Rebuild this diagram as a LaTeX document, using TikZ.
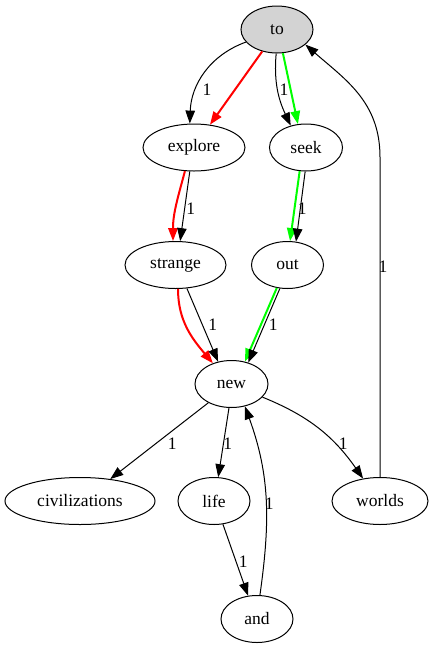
\documentclass[tikz,border=0pt]{standalone}
\usepackage{fontspec}
\newfontfamily\wordfont{Liberation Serif}
\usepackage{tikz}
\usetikzlibrary{shapes.geometric,arrows.meta,positioning}
\definecolor{startgray}{RGB}{211,211,211}
\definecolor{pathgreen}{RGB}{0,255,0}

\begin{document}
\begin{tikzpicture}[x=1pt, y=1pt,
    word/.style={ellipse, draw, line width=1pt, inner sep=0pt, minimum width=72pt, minimum height=47pt, font=\wordfont\fontsize{17.5}{20}\selectfont},
    lbl/.style={inner sep=0pt, font=\wordfont\fontsize{17.5}{20}\selectfont},
    arrow/.style={line width=1pt, -{Triangle[length=13pt, width=9.5pt]}},
    redpath/.style={arrow, draw=red, line width=2pt},
    greenpath/.style={arrow, draw=pathgreen, line width=2pt}]
    \useasboundingbox (0,0) rectangle (433,-649);

    \node[word, fill=startgray] (to) at (277,-29.5) {to};
    \node[word, minimum width=102pt] (explore) at (194,-147.5) {explore};
    \node[word, minimum width=73pt] (seek) at (306,-147.5) {seek};
    \node[word, minimum width=101pt] (strange) at (175.5,-265) {strange};
    \node[word] (out) at (287.5,-265) {out};
    \node[word, minimum width=73pt] (new) at (231.5,-384) {new};
    \node[word, minimum width=150pt] (civ) at (80,-501) {civilizations};
    \node[word] (life) at (214,-501) {life};
    \node[word, minimum width=96pt] (worlds) at (380,-501) {worlds};
    \node[word] (and) at (257,-619) {and};

    \draw[arrow] (to.202) to[out=200, in=88] (explore.100);
    \draw[redpath] (to.236) -- (explore.55);
    \draw[arrow] (to.268) to[out=265, in=115] (seek.125);
    \draw[greenpath] (to.284) -- (seek.109);
    \draw[redpath] (explore.249) to[out=255, in=90] (strange.96);
    \draw[arrow] (explore.260) -- (strange.79);
    \draw[greenpath] (seek.255) -- (out.84);
    \draw[arrow] (seek.268) -- (out.70);
    \draw[redpath] (strange.276) to[out=270, in=130] (new.132);
    \draw[arrow] (strange.296) -- (new.121);
    \draw[greenpath] (out.245) -- (new.59);
    \draw[arrow] (out.252) -- (new.52);
    \draw[arrow] (new.219) -- (civ.36);
    \draw[arrow] (new.264) -- (life.80);
    \draw[arrow] (new.337) to[out=-22, in=125] (worlds.127);
    \draw[arrow] (life.291) -- (and.111);
    \draw[arrow] (and.83) to[out=82, in=-70] (new.301);
    \draw[arrow] (worlds.north) -- ++(0,320) .. controls +(0,55) and +(40,-35) .. (to.332);

    % Annotations
    \node[lbl] (l-to-explore) at (207,-90) {1};
    \node[lbl] (l-to-seek) at (284,-89.5) {1};
    \node[lbl] (l-explore-strange) at (190.7,-208.3) {1};
    \node[lbl] (l-seek-out) at (302.3,-208.3) {1};
    \node[lbl] (l-strange-new) at (212.7,-325) {1};
    \node[lbl] (l-out-new) at (273.3,-325) {1};
    \node[lbl] (l-new-civ) at (172.3,-443.3) {1};
    \node[lbl] (l-new-life) at (227.7,-443.3) {1};
    \node[lbl] (l-new-worlds) at (343.3,-443.3) {1};
    \node[lbl] (l-life-and) at (243.3,-561.7) {1};
    \node[lbl] (l-and-new) at (269.3,-503.3) {1};
    \node[lbl] (l-worlds-to) at (383,-267) {1};
\end{tikzpicture}
\end{document}
